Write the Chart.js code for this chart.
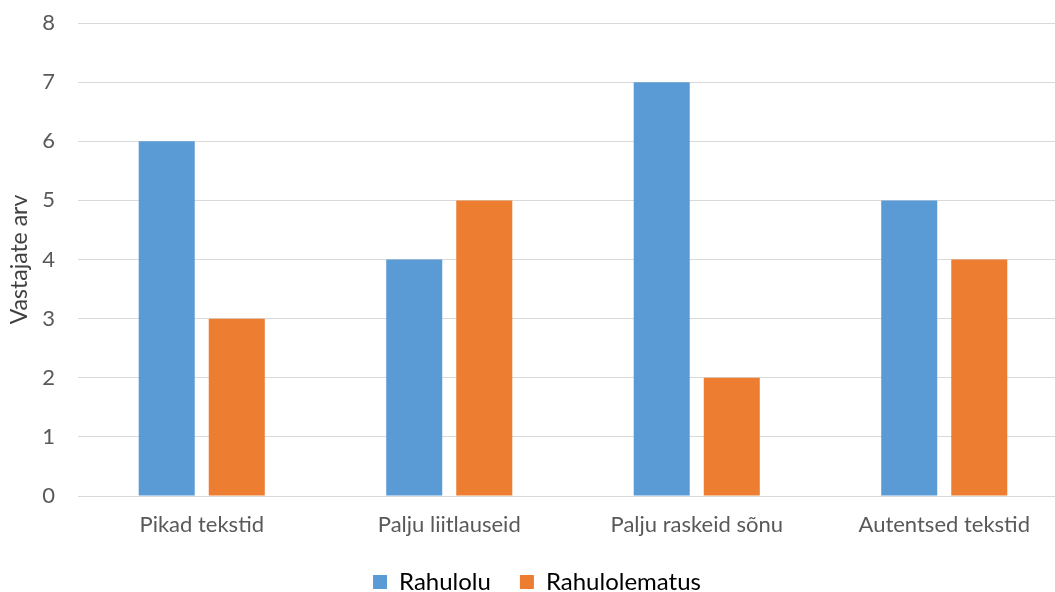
<!DOCTYPE html>
<html>
<head>
<meta charset="utf-8">
<script src="https://cdn.jsdelivr.net/npm/chart.js@4"></script>
<style>
  html, body { margin: 0; padding: 0; background: #fff; overflow: hidden; }
  #wrap { width: 1068px; height: 592px; }
</style>
</head>
<body>
<div id="wrap"><canvas id="chart"></canvas></div>
<script>
// data
const categories = ["Pikad tekstid", "Palju liitlauseid", "Palju raskeid sõnu", "Autentsed tekstid"];
const rahulolu = [6, 4, 7, 5];
const rahulolematus = [3, 5, 2, 4];
const yTicks = [0, 1, 2, 3, 4, 5, 6, 7, 8];
const seriesNames = ["Rahulolu", "Rahulolematus"];

const FONT = "Lato, 'Liberation Sans', sans-serif";

// put the legend where excel has it, and give x labels room so they are not clipped
const placeFix = {
  id: "placeFix",
  afterLayout(chart) {
    const lg = chart.legend;
    lg.left += 3;
    lg.right += 3;
    lg.top += 12;
    lg.bottom += 12;
    chart.scales.x.bottom += 30;
  }
};

const ctx = document.getElementById("chart").getContext("2d");

new Chart(ctx, {
  type: "bar",
  data: {
    labels: categories,
    datasets: [
      {
        label: seriesNames[0],
        data: rahulolu,
        backgroundColor: "#5B9BD5",
        categoryPercentage: 0.566,
        barPercentage: 0.8,
      },
      {
        label: seriesNames[1],
        data: rahulolematus,
        backgroundColor: "#ED7D31",
        categoryPercentage: 0.566,
        barPercentage: 0.8,
      },
    ],
  },
  options: {
    responsive: true,
    maintainAspectRatio: false,
    animation: false,
    layout: { padding: { top: 23, left: 0, right: 0, bottom: 0 } },
    plugins: {
      tooltip: { enabled: false },
      legend: {
        position: "bottom",
        labels: {
          boxWidth: 14,
          boxHeight: 14,
          padding: 29,
          color: "#000",
          font: { family: FONT, size: 24 },
        },
      },
    },
    scales: {
      x: {
        grid: { display: false },
        border: { display: true, color: "#D9D9D9", width: 1 },
        ticks: {
          color: "#595959",
          font: { family: FONT, size: 22 },
          padding: 8,
          maxRotation: 0,
          autoSkip: false,
        },
        afterFit(scale) { scale.height = 33; },
      },
      y: {
        min: 0,
        max: 8,
        afterBuildTicks(scale) { scale.ticks = yTicks.map(v => ({ value: v })); },
        grid: { color: "#D9D9D9", lineWidth: 1, drawTicks: false },
        border: { display: false },
        ticks: {
          color: "#595959",
          font: { family: FONT, size: 22 },
          padding: 23,
        },
        title: {
          display: true,
          text: "Vastajate arv",
          color: "#404040",
          font: { family: FONT, size: 23 },
          padding: { top: 6, bottom: 0 },
        },
        afterFit(scale) {
          scale.width = 78;
          scale.paddingTop = 0;
          scale.paddingBottom = 0;
        },
      },
    },
  },
  plugins: [placeFix],
});
</script>
</body>
</html>
